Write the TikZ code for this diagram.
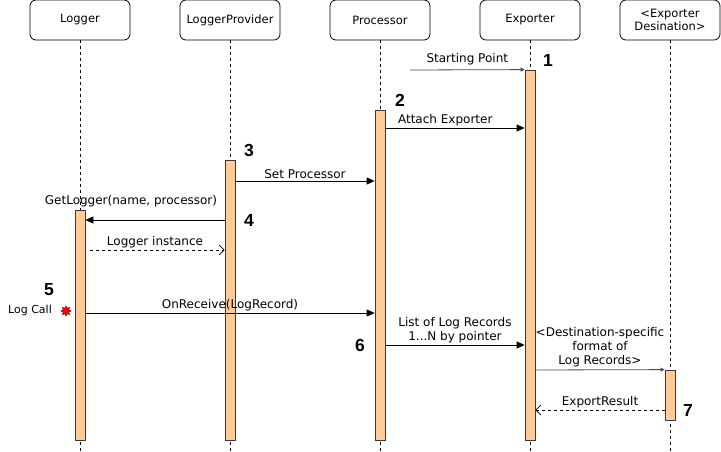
\documentclass[tikz,border=0pt]{standalone}
\usepackage{fontspec}
\setmainfont{DejaVu Sans}
\newfontfamily\numfont{Liberation Sans}
\usetikzlibrary{arrows.meta, shapes.geometric, positioning}
\definecolor{barfill}{RGB}{255,204,153}
\definecolor{barline}{RGB}{54,57,61}

\begin{document}
\begin{tikzpicture}[
        x=1pt, y=-1pt,
        % Cabeceras de las lineas de vida
        headbox/.style={
                rectangle,
                rounded corners=6pt,
                draw=black,
                line width=0.8pt,
                minimum width=100pt,
                minimum height=40pt,
                align=center,
                inner sep=2pt,
                font=\fontsize{11.5}{13.5}\selectfont
            },
        % Lineas de vida
        lifeline/.style={
                draw=black,
                line width=0.8pt,
                dash pattern=on 3pt off 3pt
            },
        % Barras de activacion
        actbar/.style={
                rectangle,
                draw=barline,
                fill=barfill,
                line width=0.8pt,
                minimum width=10pt,
                inner sep=0pt
            },
        % Mensajes
        msg/.style={
                -{Triangle[length=8pt,width=7pt]},
                line width=0.8pt,
                draw=black
            },
        reply/.style={
                -{Straight Barb[length=5pt,width=10pt]},
                line width=0.7pt,
                dash pattern=on 3pt off 3pt,
                draw=black
            },
        found/.style={
                -{Triangle[length=4pt,width=4pt]},
                line width=0.8pt,
                draw=black!70
            },
        lbl/.style={
                font=\fontsize{12}{14}\selectfont,
                align=center,
                inner sep=1pt
            },
        stepnum/.style={
                font=\numfont\bfseries\fontsize{17.5}{19}\selectfont,
                inner sep=0pt
            }
    ]

    \useasboundingbox (0,0) rectangle (721,452);

    % Cabeceras
    \node[headbox] (logger) at (80,20) {Logger};
    \node[headbox] (provider) at (230,20) {LoggerProvider};
    \node[headbox] (processor) at (380,20) {Processor};
    \node[headbox] (exporter) at (530,20) {Exporter};
    \node[headbox, font=\fontsize{11.5}{13}\selectfont] (dest) at (670,20) {<Exporter\\Desination>};

    % Lineas de vida
    \foreach \h in {logger, provider, processor, exporter, dest}
        \draw[lifeline] (\h.south) -- ++(0,412);

    % Activaciones
    \node[actbar, minimum height=230pt] (logbar) at (80,325) {};
    \node[actbar, minimum height=280pt] (provbar) at (230,300) {};
    \node[actbar, minimum height=330pt] (procbar) at (380,275) {};
    \node[actbar, minimum height=370pt] (expbar) at (530,255) {};
    \node[actbar, minimum height=50pt] (destbar) at (670,395) {};

    % Mensajes
    \coordinate (start) at (410,70);
    \draw[found] (start) -- (expbar.north west)
        node[lbl, above=3pt, midway] (startlbl) {Starting Point};

    \draw[msg] (procbar.east |- 0,128) -- (expbar.west |- 0,128)
        node[lbl, above=1pt, pos=0.43] (attachlbl) {Attach Exporter};

    \draw[msg] (provbar.east |- 0,181) -- (procbar.west |- 0,181)
        node[lbl, above=1pt, midway] (setlbl) {Set Processor};

    \draw[msg] (provbar.west |- 0,220) -- (logbar.east |- 0,220);
    \node[lbl] (getlbl) at (131,201) {GetLogger(name, processor)};

    \draw[reply, shorten <=5pt] (logbar.east |- 0,250) -- (provbar.west |- 0,250)
        node[lbl, above=1pt, midway] (instlbl) {Logger instance};

    \draw[msg] (logbar.east |- 0,313) -- (procbar.west |- 0,313)
        node[lbl, above=1pt, midway] (recvlbl) {OnReceive(LogRecord)};

    \draw[msg] (procbar.east |- 0,345) -- (expbar.west |- 0,345)
        node[lbl, above=1pt, midway] (listlbl) {List of Log Records\\1...N by pointer};

    \draw[found] (expbar.east |- 0,370) -- (destbar.north west)
        node[lbl, above=1pt, midway] (fmtlbl) {<Destination-specific\\format of\\Log Records>};

    \draw[reply] (destbar.west |- 0,410) -- (expbar.east |- 0,410)
        node[lbl, above=1pt, midway] (reslbl) {ExportResult};

    % Llamada inicial
    \node[lbl, font=\fontsize{11}{13}\selectfont] (logcall) at (30,310) {Log Call};
    \node[star, star points=8, star point ratio=1.7, fill=red, draw=red!50!black,
        line width=0.5pt, minimum size=10pt, inner sep=0pt] (callstar) at (66,311) {};

    % Pasos
    \node[stepnum] (n1) at (548,60) {1};
    \node[stepnum] (n2) at (400,100) {2};
    \node[stepnum] (n3) at (249,150) {3};
    \node[stepnum] (n4) at (249,220) {4};
    \node[stepnum] (n5) at (49,290) {5};
    \node[stepnum] (n6) at (360,345) {6};
    \node[stepnum] (n7) at (688,410) {7};

\end{tikzpicture}
\end{document}
